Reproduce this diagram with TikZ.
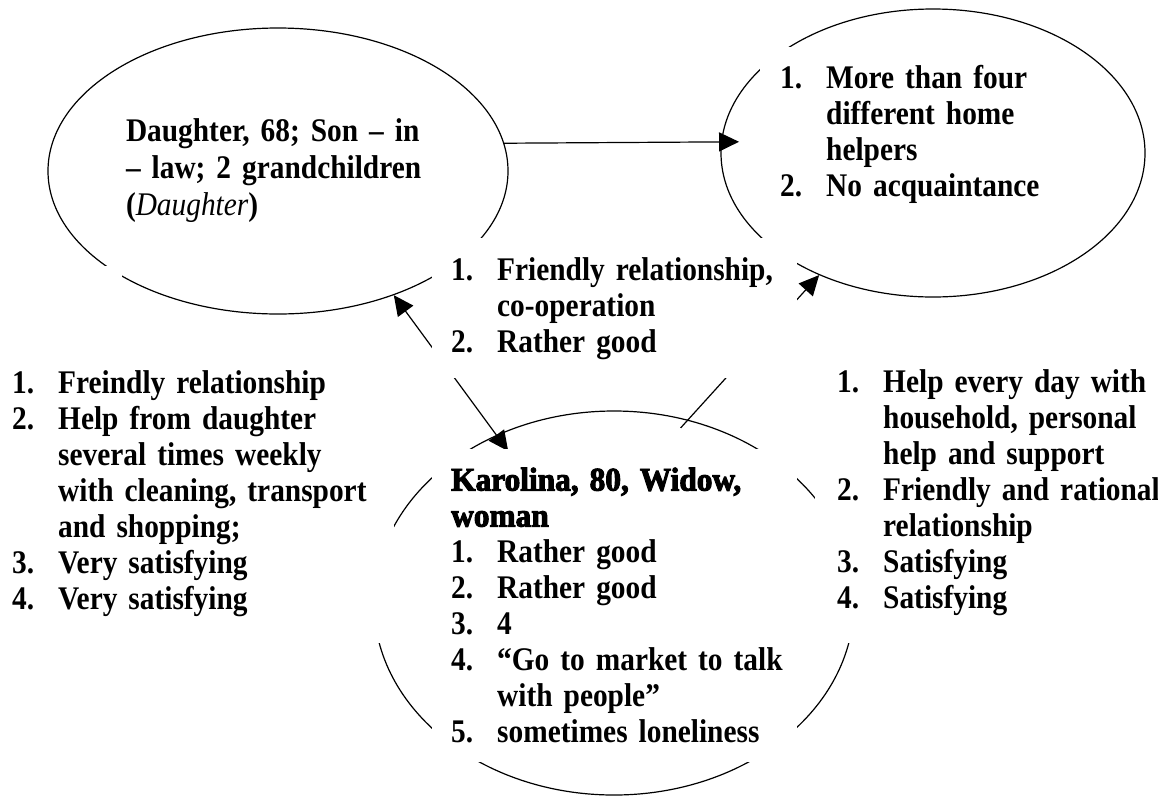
\documentclass[tikz,border=0pt]{standalone}
\usepackage{fontspec}
\setmainfont{Liberation Serif}[FakeStretch=0.89]
\newfontfamily\heavyfont{Liberation Serif}[FakeStretch=0.95, BoldFeatures={FakeBold=3}]
\usetikzlibrary{shapes.geometric,arrows.meta}
\newcommand{\lblitem}[2]{\mbox{\makebox[46pt][l]{#1}#2}}
\newcommand{\lblcont}[1]{\mbox{\hspace*{46pt}#1}}

\begin{document}
\begin{tikzpicture}[
    x=1pt, y=-1pt,
    oval/.style={ellipse, draw, line width=1.2pt, inner sep=0pt},
    txt/.style={anchor=north west, fill=white, align=left, font=\fontsize{33}{36}\selectfont\bfseries},
    arrow/.style={line width=1.2pt, >={Triangle[length=20pt, width=19pt]}}
]
\useasboundingbox (0,0) rectangle (1158,796);

\node[oval, minimum width=460pt, minimum height=286pt, text width=304pt, align=left, font=\fontsize{33}{37}\selectfont\bfseries] (dau) at (278,171) {Daughter, 68; Son -- in\\-- law; 2 grandchildren\\(\textmd{\textit{Daughter}})};
\node[oval, minimum width=424pt, minimum height=288pt] (hlp) at (933,153) {};
\node[oval, minimum width=480pt, minimum height=384pt] (kar) at (614,603) {};

\draw[arrow, ->, shorten >=-18pt] (dau.7) -- (hlp.177);
\draw[arrow, <->, shorten >=-20pt] (dau.-47) -- (kar.125);
\draw[arrow, ->, shorten <=-11pt] (kar.68) -- (hlp.227);

\fill[white] (60,266) rectangle (122,300);

\node[txt, inner xsep=20pt, inner ysep=18pt, text width=270pt] (hlptxt) at (760,47) {\lblitem{1.}{More than four}\\\lblcont{different home}\\\lblcont{helpers}\\\lblitem{2.}{No acquaintance}};
\node[txt, inner xsep=19pt, inner ysep=19pt, text width=327pt] (midtxt) at (432,238) {\lblitem{1.}{Friendly relationship,}\\\lblcont{co-operation}\\\lblitem{2.}{Rather good}};
\node[txt, inner xsep=12pt, inner ysep=27pt, text width=370pt] (lefttxt) at (0,343) {\lblitem{1.}{Freindly relationship}\\\lblitem{2.}{Help from daughter}\\\lblcont{several times weekly}\\\lblcont{with cleaning, transport}\\\lblcont{and shopping;}\\\lblitem{3.}{Very satisfying}\\\lblitem{4.}{Very satisfying}};
\node[txt, inner xsep=22pt, inner ysep=28pt, text width=330pt] (righttxt) at (815,341) {\lblitem{1.}{Help every day with}\\\lblcont{household, personal}\\\lblcont{help and support}\\\lblitem{2.}{Friendly and rational}\\\lblcont{relationship}\\\lblitem{3.}{Satisfying}\\\lblitem{4.}{Satisfying}};
\node[txt, inner xsep=19pt, inner ysep=18.5pt, text width=327pt] (kartxt) at (432,449) {{\heavyfont\bfseries Karolina, 80, Widow,}\\{\heavyfont\bfseries woman}\\\lblitem{1.}{Rather good}\\\lblitem{2.}{Rather good}\\\lblitem{3.}{4}\\\lblitem{4.}{“Go to market to talk}\\\lblcont{with people”}\\\lblitem{5.}{sometimes loneliness}};

\end{tikzpicture}
\end{document}
